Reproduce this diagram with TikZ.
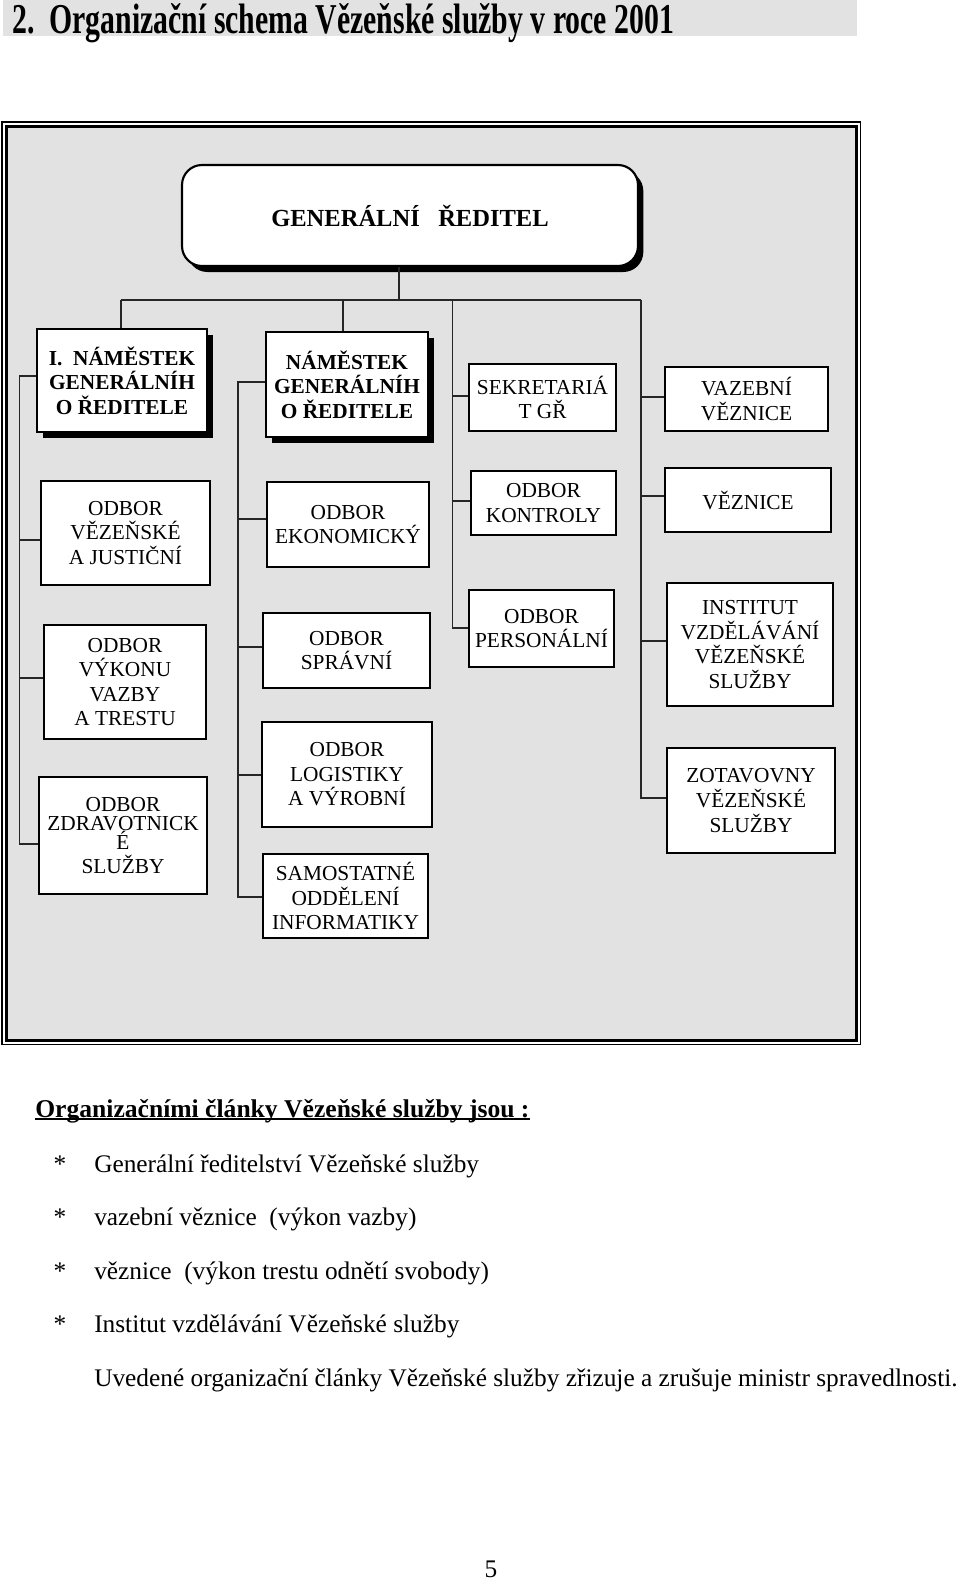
\documentclass[tikz,border=0pt]{standalone}
\usepackage{fontspec}
\setmainfont{Liberation Serif}
\usepackage{graphicx}
\usetikzlibrary{shadows}
\definecolor{patgray}{gray}{0.885}
\tikzset{
  orgbase/.style={draw=black, line width=1.2pt, fill=white, inner sep=0pt, align=center,
    font=\fontsize{16}{18.4}\selectfont},
  boldbox/.style={orgbase, font=\fontsize{16}{18.4}\bfseries\selectfont,
    drop shadow={shadow xshift=4.5pt, shadow yshift=-4.5pt, fill=black, opacity=1}},
  headbox/.style={orgbase, rounded corners=15pt, line width=1.6pt, font=\fontsize{18.4}{22}\bfseries\selectfont,
    drop shadow={shadow xshift=4pt, shadow yshift=-4.5pt, fill=black, opacity=1}},
  conn/.style={line width=1.2pt, draw=black!85},
  bodytext/.style={inner sep=0pt, font=\fontsize{19}{22}\selectfont},
}
\newcommand\orgbox[7][orgbase]{%
  \node[#1, minimum width={(#5-#3)*0.75pt}, minimum height={(#6-#4)*0.75pt}]
    (#2) at ({(#3+#5)/2},{(#4+#6)/2}) {#7};}
\newcommand\branch[3]{\coordinate (#1) at #2; \draw[conn] (#1) -- (#1 -| #3.west);}
\begin{document}
\begin{tikzpicture}[x=0.75pt,y=-0.75pt]
\useasboundingbox (0,0) rectangle (960,1581);
\fill[white] (0,0) rectangle (960,1581);
% title strip
\fill[patgray] (3,0) rectangle (857,36);
\node[anchor=base west, inner sep=0pt] (title) at (12,33)
  {\scalebox{0.7}[1]{\fontsize{31.9}{36}\bfseries\selectfont 2.\ \ Organizační schema Vězeňské služby v roce 2001}};
% frame
\draw[line width=0.9pt] (2,122) rectangle (860.5,1044.5);
\draw[line width=1.8pt, fill=patgray] (6.5,126.5) rectangle (856.5,1040.5);
% boxes
\orgbox[headbox]{GR}{182}{165}{638}{266}{GENERÁLNÍ\ \ \ ŘEDITEL}
\orgbox[boldbox]{N1}{37}{329}{207}{432}{I.\ \ NÁMĚSTEK\\GENERÁLNÍH\\O ŘEDITELE}
\orgbox[boldbox]{N2}{266}{332}{428}{437}{NÁMĚSTEK\\GENERÁLNÍH\\O ŘEDITELE}
\orgbox{SEK}{469}{364}{616}{431}{SEKRETARIÁ\\T GŘ}
\orgbox{VAZ}{665}{367}{828}{431}{VAZEBNÍ\\VĚZNICE}
\orgbox{VEZJ}{41}{481}{210}{585}{ODBOR\\VĚZEŇSKÉ\\A JUSTIČNÍ}
\orgbox{EKON}{267}{482}{429}{567}{ODBOR\\EKONOMICKÝ}
\orgbox{KONT}{471}{471}{616}{535}{ODBOR\\KONTROLY}
\orgbox{VEZN}{665}{468}{831}{532}{VĚZNICE}
\orgbox{VYK}{44}{625}{206}{739}{ODBOR\\VÝKONU\\VAZBY\\A TRESTU}
\orgbox{SPRAV}{263}{613}{430}{688}{ODBOR\\SPRÁVNÍ}
\orgbox{PERS}{469}{590}{614}{667}{ODBOR\\PERSONÁLNÍ}
\orgbox{INST}{667}{583}{833}{706}{INSTITUT\\VZDĚLÁVÁNÍ\\VĚZEŇSKÉ\\SLUŽBY}
\orgbox{ZDRAV}{39}{777}{207}{894}{ODBOR\\[-3.5pt]ZDRAVOTNICK\\[-4.5pt]É\\SLUŽBY}
\orgbox{LOG}{262}{722}{432}{827}{ODBOR\\LOGISTIKY\\A VÝROBNÍ}
\orgbox{ZOT}{667}{748}{835}{853}{ZOTAVOVNY\\VĚZEŇSKÉ\\SLUŽBY}
\orgbox{SAMO}{263}{854}{428}{938}{SAMOSTATNÉ\\ODDĚLENÍ\\INFORMATIKY}
% connectors
\coordinate (stem) at (399,300);
\draw[conn] (stem |- GR.south) -- (stem);
\coordinate (barL) at (121,300);
\coordinate (barR) at (641,300);
\draw[conn] (barL) -- (barR);
\draw[conn] (barL) -- (barL |- N1.north);
\coordinate (d2) at (343,300);
\draw[conn] (d2) -- (d2 |- N2.north);
% column 3
\coordinate (c3t) at (452.5,300);
\coordinate (c3b) at (452.5,628);
\draw[conn] (c3t) -- (c3b) -- (c3b -| PERS.west);
\branch{c3a}{(452.5,396)}{SEK}
\branch{c3k}{(452.5,501)}{KONT}
% column 4
\coordinate (c4b) at (641,798);
\draw[conn] (barR) -- (c4b) -- (c4b -| ZOT.west);
\branch{c4a}{(641,397)}{VAZ}
\branch{c4v}{(641,496)}{VEZN}
\branch{c4i}{(641,641)}{INST}
% column 1
\coordinate (c1t) at (19.5,376);
\coordinate (c1b) at (19.5,844);
\draw[conn] (c1t -| N1.west) -- (c1t) -- (c1b) -- (c1b -| ZDRAV.west);
\branch{c1v}{(19.5,540)}{VEZJ}
\branch{c1k}{(19.5,678)}{VYK}
% column 2
\coordinate (c2t) at (237.7,382);
\coordinate (c2b) at (237.7,897);
\draw[conn] (c2t -| N2.west) -- (c2t) -- (c2b) -- (c2b -| SAMO.west);
\branch{c2e}{(237.7,519)}{EKON}
\branch{c2s}{(237.7,647)}{SPRAV}
\branch{c2l}{(237.7,775)}{LOG}
% text below
\node[bodytext, anchor=base west, font=\fontsize{19.2}{22}\bfseries\selectfont] (hd) at (35,1117)
  {Organizačními články Vězeňské služby jsou :};
\draw[line width=1.4pt] ([yshift=-1.8pt]hd.base west) -- ([yshift=-1.8pt]hd.base east);
\node[bodytext, anchor=base] (s1) at (60,1172) {*};
\node[bodytext, anchor=base west] (t1) at (94,1172) {Generální ředitelství Vězeňské služby};
\node[bodytext, anchor=base] (s2) at (60,1225.6) {*};
\node[bodytext, anchor=base west] (t2) at (94,1225.6) {vazební věznice\ \ (výkon vazby)};
\node[bodytext, anchor=base] (s3) at (60,1279.2) {*};
\node[bodytext, anchor=base west] (t3) at (94,1279.2) {věznice\ \ (výkon trestu odnětí svobody)};
\node[bodytext, anchor=base] (s4) at (60,1332.8) {*};
\node[bodytext, anchor=base west] (t4) at (94,1332.8) {Institut vzdělávání Vězeňské služby};
\node[bodytext, anchor=base west] (t5) at (94,1386.4) {Uvedené organizační články Vězeňské služby zřizuje a zrušuje ministr spravedlnosti.};
\node[bodytext, anchor=base] (pg) at (491,1577) {5};
\end{tikzpicture}
\end{document}
